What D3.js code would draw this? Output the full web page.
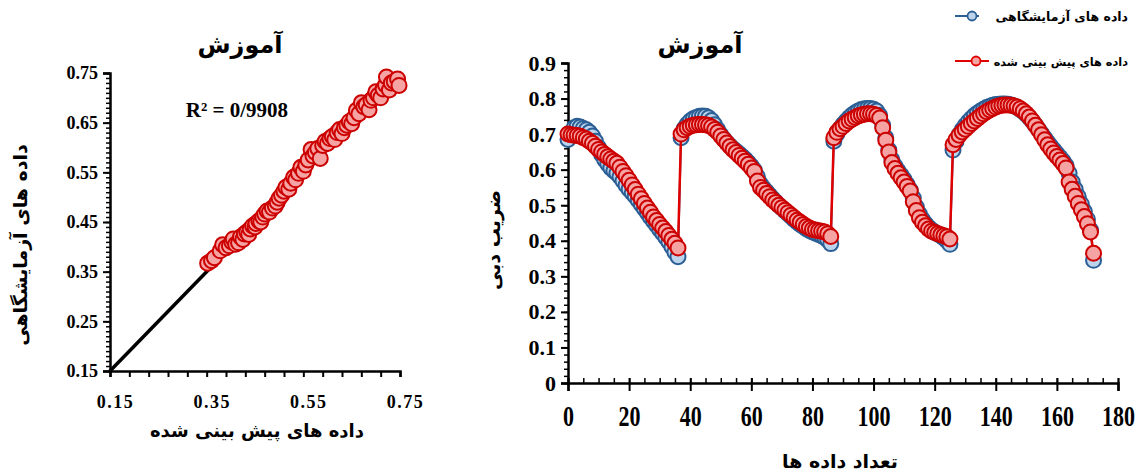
<!DOCTYPE html>
<html><head><meta charset="utf-8">
<script src="https://cdn.jsdelivr.net/npm/d3@7"></script>
<style>body{margin:0;background:#fff}svg{display:block}</style>
</head><body><svg id="c" width="1137" height="476"></svg>
<script>
// ---- Time series (right chart): sample index = array position (0..172)
const experimental = [
0.685,0.705,0.718,0.722,0.720,0.716,0.712,0.705,0.695,0.680,0.662,0.643,0.628,0.616,0.605,0.597,0.590,0.580,0.568,0.556,0.545,0.535,0.525,0.514,0.502,0.490,0.478,0.466,0.455,0.444,0.432,0.421,0.409,0.397,0.383,0.368,0.355,
0.690,0.715,0.728,0.737,0.743,0.747,0.750,0.751,0.750,0.746,0.738,0.726,0.712,0.698,0.686,0.676,0.667,0.659,0.652,0.645,0.637,0.629,0.620,0.610,0.598,0.580,0.560,0.548,0.538,0.528,0.518,0.509,0.500,0.492,0.484,0.476,0.468,0.460,0.453,0.446,0.440,0.434,0.429,0.425,0.421,0.418,0.414,0.409,0.402,0.392,
0.680,0.700,0.715,0.727,0.737,0.746,0.754,0.760,0.765,0.769,0.771,0.772,0.772,0.770,0.765,0.752,0.725,0.690,0.655,0.628,0.610,0.597,0.585,0.572,0.558,0.543,0.520,0.495,0.475,0.460,0.448,0.438,0.430,0.424,0.419,0.414,0.408,0.400,0.390,
0.655,0.680,0.698,0.712,0.724,0.735,0.744,0.752,0.759,0.765,0.770,0.775,0.778,0.781,0.783,0.784,0.785,0.785,0.784,0.782,0.779,0.775,0.770,0.763,0.755,0.746,0.736,0.725,0.713,0.701,0.689,0.677,0.666,0.655,0.645,0.635,0.624,0.612,0.590,0.565,0.545,0.524,0.503,0.482,0.460,0.430,0.345
];
const predicted = [
0.700,0.698,0.697,0.696,0.694,0.690,0.686,0.680,0.674,0.666,0.657,0.650,0.643,0.636,0.630,0.624,0.618,0.607,0.595,0.583,0.570,0.557,0.544,0.531,0.518,0.505,0.492,0.480,0.467,0.457,0.446,0.436,0.426,0.415,0.404,0.393,0.380,
0.700,0.712,0.718,0.722,0.725,0.726,0.727,0.727,0.726,0.724,0.720,0.713,0.705,0.695,0.685,0.675,0.665,0.656,0.648,0.640,0.632,0.624,0.615,0.605,0.595,0.568,0.550,0.542,0.533,0.524,0.515,0.508,0.500,0.493,0.486,0.479,0.472,0.465,0.458,0.452,0.446,0.440,0.436,0.432,0.430,0.428,0.427,0.425,0.420,0.412,
0.690,0.705,0.715,0.722,0.730,0.737,0.742,0.747,0.751,0.754,0.756,0.757,0.757,0.756,0.752,0.745,0.718,0.683,0.650,0.620,0.603,0.590,0.577,0.565,0.553,0.540,0.510,0.485,0.465,0.452,0.442,0.433,0.427,0.423,0.420,0.417,0.414,0.411,0.405,
0.670,0.685,0.697,0.706,0.714,0.722,0.730,0.737,0.744,0.751,0.757,0.763,0.768,0.772,0.776,0.779,0.781,0.782,0.782,0.781,0.779,0.776,0.771,0.765,0.757,0.748,0.737,0.725,0.712,0.698,0.684,0.670,0.658,0.647,0.637,0.627,0.617,0.605,0.565,0.545,0.525,0.505,0.487,0.468,0.448,0.425,0.365
];
// ---- Scatter (left chart)
const scatterPredicted = [0.352,0.360,0.366,0.378,0.383,0.390,0.397,0.402,0.405,0.410,0.416,0.420,0.425,0.428,0.433,0.437,0.440,0.445,0.450,0.452,0.458,0.462,0.466,0.470,0.475,0.480,0.486,0.492,0.496,0.500,0.505,0.510,0.514,0.520,0.524,0.530,0.534,0.540,0.545,0.550,0.555,0.560,0.566,0.570,0.575,0.580,0.585,0.590,0.595,0.600,0.605,0.610,0.615,0.620,0.625,0.630,0.635,0.640,0.645,0.650,0.655,0.660,0.665,0.670,0.675,0.680,0.686,0.690,0.695,0.700,0.705,0.710,0.715,0.720,0.722,0.728,0.732,0.738,0.745,0.748];
const scatterExperimental = [0.367,0.372,0.378,0.392,0.404,0.398,0.402,0.410,0.416,0.405,0.408,0.420,0.415,0.426,0.430,0.425,0.436,0.442,0.440,0.447,0.452,0.450,0.460,0.466,0.472,0.470,0.478,0.482,0.490,0.498,0.504,0.512,0.520,0.516,0.528,0.540,0.535,0.548,0.560,0.552,0.565,0.575,0.596,0.583,0.590,0.598,0.578,0.604,0.612,0.608,0.618,0.622,0.616,0.630,0.636,0.628,0.640,0.645,0.652,0.648,0.660,0.675,0.668,0.690,0.682,0.686,0.676,0.695,0.700,0.712,0.705,0.700,0.718,0.726,0.742,0.716,0.730,0.733,0.738,0.725];
const r2Label = "R² = 0/9908";
const leftTickLabels = [0.15,0.25,0.35,0.45,0.55,0.65,0.75];
const leftXTickLabels = [0.15,0.35,0.55,0.75];
const rightYTickLabels = [0,0.1,0.2,0.3,0.4,0.5,0.6,0.7,0.8,0.9];
const rightXTickLabels = [0,20,40,60,80,100,120,140,160,180];
const titles = {left:"آموزش", right:"آموزش"};
const seriesNames = ["داده های آزمایشگاهی","داده های پیش بینی شده"];
const axisTitles = {leftY:"داده های آزمایشگاهی", leftX:"داده های پیش بینی شده", rightY:"ضریب دبی", rightX:"تعداد داده ها"};

const svg = d3.select("#c");
svg.append("rect").attr("width",1137).attr("height",476).attr("fill","#fff");
const FA = "'DejaVu Sans', sans-serif";
const NUM = "'Liberation Serif', 'Times New Roman', serif";
const RED = "#cc0000", PINK = "#f6a3a3", BLUE = "#2b5f95", LBLUE = "#bcd5ec", LINE_RED = "#e00000";

// ================= LEFT CHART =================
const lx = d3.scaleLinear([0.15,0.75],[110,400]);
const ly = d3.scaleLinear([0.15,0.75],[371,73]);
const L = svg.append("g");

L.append("line").attr("x1",lx(0.15)).attr("y1",ly(0.15)).attr("x2",lx(0.37)).attr("y2",ly(0.37))
  .attr("stroke","#000").attr("stroke-width",3.5);

const lyMinor = d3.range(0,61).map(i=>+(0.15+i*0.01).toFixed(2));
L.append("g").attr("transform","translate(110,0)")
  .call(d3.axisLeft(ly).tickValues(lyMinor).tickSize(4).tickFormat(""))
  .call(g=>{g.select(".domain").remove();g.selectAll("line").attr("stroke","#000").attr("stroke-width",1.5);});
L.append("g").attr("transform","translate(110,0)")
  .call(d3.axisLeft(ly).tickValues(leftTickLabels).tickSize(7).tickFormat(d3.format(".2f")))
  .call(g=>{g.select(".domain").attr("stroke","#000").attr("stroke-width",2.5);
    g.selectAll("line").attr("stroke","#000").attr("stroke-width",2);
    g.selectAll("text").attr("font-family",NUM).attr("font-weight","bold").attr("font-size",18).attr("fill","#000").attr("x",-12);});
const lxTicks = d3.range(0,16).map(i=>+(0.15+i*0.04).toFixed(2));
L.append("g").attr("transform","translate(0,371)")
  .call(d3.axisBottom(lx).tickValues(lxTicks).tickSize(6).tickFormat(""))
  .call(g=>{g.select(".domain").attr("stroke","#000").attr("stroke-width",2.5);
    g.selectAll("line").attr("stroke","#000").attr("stroke-width",2);});
L.append("g").attr("transform","translate(0,371)")
  .call(d3.axisBottom(lx).tickValues(leftXTickLabels).tickSize(0).tickFormat(d3.format(".2f")))
  .call(g=>{g.select(".domain").remove();
    g.selectAll("text").attr("font-family",NUM).attr("font-weight","bold").attr("font-size",18).attr("fill","#000")
     .attr("letter-spacing",1.5).attr("dy","1.9em").attr("dx",5);});

L.append("g").selectAll("circle").data(scatterPredicted.map((p,i)=>[p,scatterExperimental[i]]))
  .join("circle").attr("cx",d=>lx(d[0])).attr("cy",d=>ly(d[1])).attr("r",7.5)
  .attr("fill",PINK).attr("stroke",RED).attr("stroke-width",2);

L.append("text").attr("x",240).attr("y",53).attr("text-anchor","middle")
  .attr("font-family",FA).attr("font-weight","bold").attr("font-size",24).text(titles.left);
L.append("text").attr("x",237).attr("y",117).attr("text-anchor","middle")
  .attr("font-family",NUM).attr("font-weight","bold").attr("font-size",21).text(r2Label);
L.append("text").attr("transform","translate(27,245) rotate(-90)").attr("text-anchor","middle")
  .attr("font-family",FA).attr("font-weight","bold").attr("font-size",19).text(axisTitles.leftY);
L.append("text").attr("x",257).attr("y",437).attr("text-anchor","middle")
  .attr("font-family",FA).attr("font-weight","bold").attr("font-size",18).text(axisTitles.leftX);

// ================= RIGHT CHART =================
const rx = d3.scaleLinear([0,180],[568,1118]);
const ry = d3.scaleLinear([0,0.9],[383,63]);
const R = svg.append("g");

const ryMinor = d3.range(0,46).map(i=>+(i*0.02).toFixed(2));
R.append("g").attr("transform","translate(568,0)")
  .call(d3.axisLeft(ry).tickValues(ryMinor).tickSize(4).tickFormat(""))
  .call(g=>{g.select(".domain").remove();g.selectAll("line").attr("stroke","#000").attr("stroke-width",1.5);});
R.append("g").attr("transform","translate(568,0)")
  .call(d3.axisLeft(ry).tickValues(rightYTickLabels).tickSize(7).tickFormat(d=>d===0?"0":d3.format(".1f")(d)))
  .call(g=>{g.select(".domain").attr("stroke","#000").attr("stroke-width",2.5);
    g.selectAll("line").attr("stroke","#000").attr("stroke-width",2);
    g.selectAll("text").attr("font-family",NUM).attr("font-weight","bold").attr("font-size",22).attr("fill","#000").attr("x",-12);});
const rxMinor = d3.range(0,37).map(i=>i*5);
R.append("g").attr("transform","translate(0,383)")
  .call(d3.axisTop(rx).tickValues(rxMinor).tickSize(5).tickFormat(""))
  .call(g=>{g.select(".domain").remove();g.selectAll("line").attr("stroke","#000").attr("stroke-width",1.5);});
R.append("g").attr("transform","translate(0,383)")
  .call(d3.axisBottom(rx).tickValues(rightXTickLabels).tickSize(8).tickFormat(d3.format("d")))
  .call(g=>{g.select(".domain").attr("stroke","#000").attr("stroke-width",2.5);
    g.selectAll("line").attr("stroke","#000").attr("stroke-width",2).attr("y1",-5);
    g.selectAll("text").attr("font-family",NUM).attr("font-weight","bold").attr("font-size",22).attr("fill","#000")
      .attr("y",33).attr("dy",0).attr("transform","scale(1,1.3)");});

const line = d3.line().x((d,i)=>rx(i)).y(d=>ry(d));
R.append("path").datum(experimental).attr("d",line).attr("fill","none").attr("stroke",BLUE).attr("stroke-width",2);
R.append("g").selectAll("circle").data(experimental).join("circle")
  .attr("cx",(d,i)=>rx(i)).attr("cy",d=>ry(d)).attr("r",7.5).attr("fill",LBLUE).attr("stroke",BLUE).attr("stroke-width",2);
R.append("path").datum(predicted).attr("d",line).attr("fill","none").attr("stroke",LINE_RED).attr("stroke-width",2.5);
R.append("g").selectAll("circle").data(predicted).join("circle")
  .attr("cx",(d,i)=>rx(i)).attr("cy",d=>ry(d)).attr("r",7.5).attr("fill",PINK).attr("stroke",RED).attr("stroke-width",2);

R.append("text").attr("x",700).attr("y",53).attr("text-anchor","middle")
  .attr("font-family",FA).attr("font-weight","bold").attr("font-size",24).text(titles.right);
R.append("text").attr("transform","translate(500,240) rotate(-90)").attr("text-anchor","middle")
  .attr("font-family",FA).attr("font-weight","bold").attr("font-size",19).text(axisTitles.rightY);
R.append("text").attr("x",840).attr("y",468).attr("text-anchor","middle")
  .attr("font-family",FA).attr("font-weight","bold").attr("font-size",19).text(axisTitles.rightX);

// legend
const leg = [{y:16,c:BLUE,f:LBLUE,name:seriesNames[0],w:24,cx:17,fs:12.5},{y:61,c:LINE_RED,f:PINK,name:seriesNames[1],w:34,cx:21,fs:11.3}];
leg.forEach(d=>{
  const g = R.append("g");
  g.append("line").attr("x1",955).attr("x2",955+d.w).attr("y1",d.y).attr("y2",d.y).attr("stroke",d.c).attr("stroke-width",2);
  g.append("circle").attr("cx",955+d.cx).attr("cy",d.y).attr("r",4.5).attr("fill",d.f).attr("stroke",d.c).attr("stroke-width",1.8);
  g.append("text").attr("x",1128).attr("y",d.y+5).attr("text-anchor","end").attr("direction","ltr")
    .attr("font-family",FA).attr("font-weight","bold").attr("font-size",d.fs).text(d.name);
});
</script></body></html>
